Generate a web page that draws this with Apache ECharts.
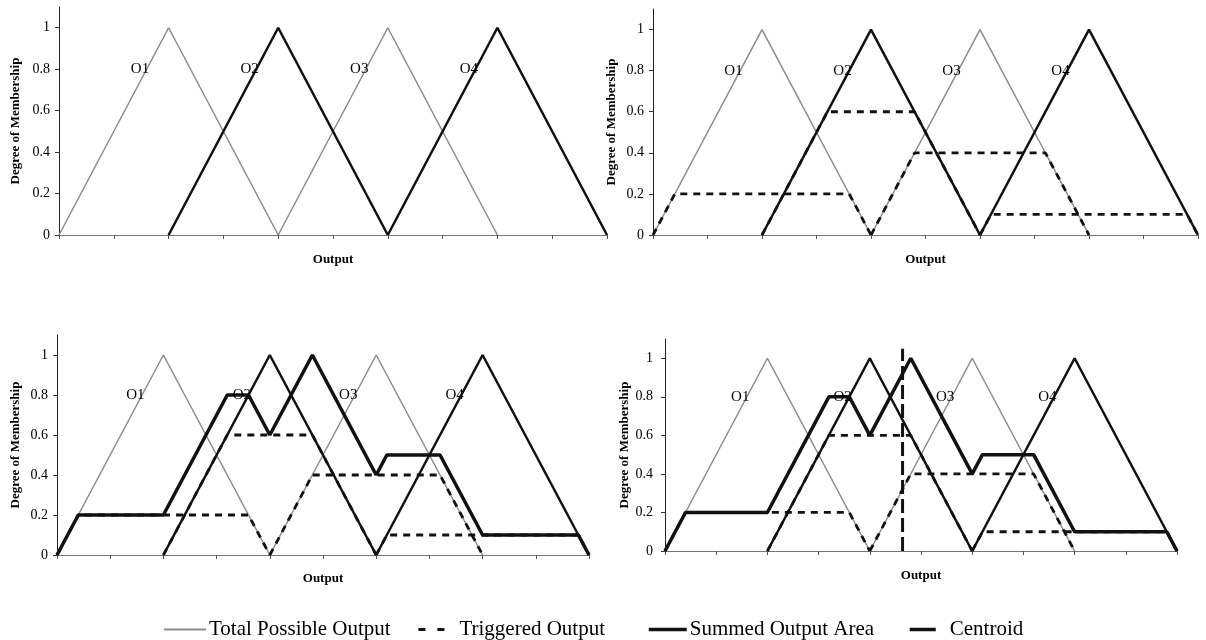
<!DOCTYPE html>
<html>
<head>
<meta charset="utf-8">
<script src="https://cdn.jsdelivr.net/npm/echarts@6.0.0/dist/echarts.min.js"></script>
<style>
  html, body { margin: 0; padding: 0; background: #fff; }
  #chart { width: 1206px; height: 640px; }
</style>
</head>
<body>
<div id="chart"></div>
<script>
// membership functions (output sets)
var setNames = ['O1', 'O2', 'O3', 'O4'];
var o1 = [[0, 0], [1, 1], [2, 0]];
var o2 = [[1, 0], [2, 1], [3, 0]];
var o3 = [[2, 0], [3, 1], [4, 0]];
var o4 = [[3, 0], [4, 1], [5, 0]];
// where the O labels sit
var setLabelAt = [[0.8, 0.8], [1.8, 0.8], [2.8, 0.8], [3.8, 0.8]];

// triggered (clipped) output of each set
var trigO1 = [[0, 0], [0.2, 0.2], [1.8, 0.2], [2, 0]];
var trigO2 = [[1, 0], [1.6, 0.6], [2.4, 0.6], [3, 0]];
var trigO3 = [[2, 0], [2.4, 0.4], [3.6, 0.4], [4, 0]];
var trigO4 = [[3, 0], [3.1, 0.1], [4.9, 0.1], [5, 0]];

// summed output area
var summed = [[0, 0], [0.2, 0.2], [1, 0.2], [1.6, 0.8], [1.8, 0.8], [2, 0.6], [2.4, 1],
              [3, 0.4], [3.1, 0.5], [3.6, 0.5], [4, 0.1], [4.9, 0.1], [5, 0]];

// centroid
var centroid = [[2.32, 0], [2.32, 1.05]];

var yTicks = [0, 0.2, 0.4, 0.6, 0.8, 1];

var FONT = '"Liberation Serif", "Times New Roman", serif';
var GRAY = '#8c8c8c';
var BLACK = '#111';

// panel placement [left, right, top, bottom, yNameGap, xNameGap, labelMargin]
var panels = [
  [59, 599, 7, 405, 37, 18, 9],
  [653, 8, 9, 405, 35, 18, 9],
  [57, 617, 335, 85, 35, 17, 9],
  [665, 29, 339, 89, 32, 18, 12]
];

var grids = [], xAxes = [], yAxes = [], series = [];

panels.forEach(function (p, i) {
  grids.push({ left: p[0], right: p[1], top: p[2], bottom: p[3] });
  xAxes.push({
    gridIndex: i, type: 'value', min: 0, max: 5, interval: 0.5,
    name: 'Output', nameLocation: 'middle', nameGap: p[5],
    nameTextStyle: { fontFamily: FONT, fontWeight: 'bold', fontSize: 13, color: '#000' },
    axisLine: { lineStyle: { color: '#777', width: 1.2 } },
    axisTick: { show: true, length: 4, lineStyle: { color: '#555' } },
    axisLabel: { show: false },
    splitLine: { show: false }
  });
  yAxes.push({
    gridIndex: i, type: 'value', min: 0, max: 1.1, interval: 0.2,
    name: 'Degree of Membership', nameLocation: 'middle', nameGap: p[4],
    nameTextStyle: { fontFamily: FONT, fontWeight: 'bold', fontSize: 13, color: '#000' },
    axisLine: { show: true, lineStyle: { color: '#222', width: 1 } },
    axisTick: { show: true, length: 4, customValues: yTicks, lineStyle: { color: '#333' } },
    axisLabel: { customValues: yTicks, margin: p[6], fontFamily: FONT, fontSize: 14, color: '#000' },
    splitLine: { show: false }
  });

  function line(name, data, style, z) {
    series.push({
      type: 'line', name: name, xAxisIndex: i, yAxisIndex: i, data: data,
      symbol: 'none', silent: true, z: z, lineStyle: style, itemStyle: { color: style.color }
    });
  }

  var thin = { color: GRAY, width: 1.5 };
  var thick = { color: BLACK, width: 2.5 };
  line('Total Possible Output', o1, thin, 2);
  line('Total Possible Output', o3, thin, 2);
  line('O2 set', o2, thick, 3);
  line('O4 set', o4, thick, 3);

  if (i > 0) {
    var dash = { color: BLACK, width: 2.8, type: [7, 6] };
    [trigO1, trigO2, trigO3, trigO4].forEach(function (d) { line('Triggered Output', d, dash, 4); });
  }
  if (i > 1) {
    line('Summed Output Area', summed, { color: BLACK, width: 3.5 }, 5);
  }
  if (i === 3) {
    line('Centroid', centroid, { color: BLACK, width: 3, type: [14, 5] }, 6);
  }

  series.push({
    type: 'scatter', name: 'set labels', xAxisIndex: i, yAxisIndex: i, symbolSize: 1, silent: true, z: 7,
    itemStyle: { opacity: 0 },
    data: setLabelAt.map(function (v, k) { return { value: v, name: setNames[k] }; }),
    label: {
      show: true, position: 'left', distance: -3, formatter: '{b}', opacity: 1,
      fontFamily: FONT, fontSize: 15, color: '#000', textBorderWidth: 0
    }
  });
});

function legendAt(name, left, width, textPad, lineStyle) {
  return {
    data: [name], left: left, top: 614, itemWidth: width, itemHeight: 12, itemGap: 0,
    selectedMode: false,
    itemStyle: { opacity: 0, borderWidth: 0 },
    lineStyle: lineStyle,
    textStyle: { fontFamily: FONT, fontSize: 21, color: '#000', padding: [0, 0, 0, textPad] }
  };
}

var option = {
  animation: false,
  backgroundColor: '#fff',
  grid: grids,
  xAxis: xAxes,
  yAxis: yAxes,
  legend: [
    legendAt('Total Possible Output', 158, 42, -2, { width: 2 }),
    legendAt('Triggered Output', 412, 26, 10, { width: 2.8, type: [7, 12] }),
    legendAt('Summed Output Area', 642, 38, -2, { width: 3.5 }),
    legendAt('Centroid', 903, 26, 9, { type: 'solid', width: 3.5 })
  ],
  series: series
};

var myChart = echarts.init(document.getElementById('chart'), null, { renderer: 'canvas' });
myChart.setOption(option);
</script>
</body>
</html>
